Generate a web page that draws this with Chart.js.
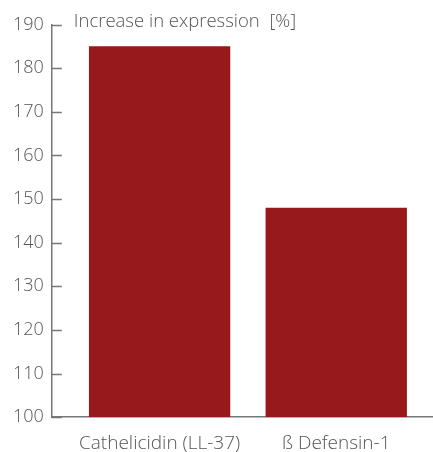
<!DOCTYPE html>
<html>
<head>
<meta charset="utf-8">
<script src="https://cdn.jsdelivr.net/npm/chart.js@4"></script>
<style>
  body { margin: 0; background: #fff; }
  #wrap { width: 433px; height: 452px; }
</style>
</head>
<body>
<div id="wrap"><canvas id="expressionChart"></canvas></div>
<script>
const categories = ['Cathelicidin (LL-37)', 'ß Defensin-1'];
const positions = [1, 2];
const increase = [185, 148];
const yTicks = [100, 110, 120, 130, 140, 150, 160, 170, 180, 190];

const textColor = '#555555';
const axisColor = '#777777';
const barColor = '#97191c';

// short ticks pointing into the plot, like the printed figure
const innerTicks = {
    id: 'innerTicks',
    afterDraw(chart) {
        const ctx = chart.ctx;
        const y = chart.scales.y;
        const left = chart.chartArea.left;
        ctx.save();
        ctx.strokeStyle = axisColor;
        ctx.lineWidth = 1.5;
        ctx.beginPath();
        yTicks.forEach(function (v) {
            const py = Math.round(y.getPixelForValue(v)) + 0.5;
            ctx.moveTo(left, py);
            ctx.lineTo(left + 10, py);
        });
        ctx.stroke();
        ctx.fillStyle = textColor;
        ctx.font = '300 18.5px "Open Sans", sans-serif';
        ctx.textBaseline = 'middle';
        ctx.fillText('Increase in expression  [%]', left + 22, y.getPixelForValue(190) - 3);
        ctx.restore();
    }
};

new Chart(document.getElementById('expressionChart'), {
    type: 'bar',
    data: {
        datasets: [{
            data: positions.map(function (p, i) { return { x: p, y: increase[i] }; }),
            backgroundColor: barColor,
            barPercentage: 0.8,
            categoryPercentage: 1.0,
            base: 100
        }]
    },
    options: {
        responsive: true,
        maintainAspectRatio: false,
        animation: false,
        layout: { padding: { top: 24.5, right: 1, left: 5, bottom: -18 } },
        plugins: {
            legend: { display: false },
            tooltip: { enabled: false }
        },
        scales: {
            x: {
                type: 'linear',
                offset: false,
                min: 0.39,
                max: 2.542,
                afterBuildTicks: function (axis) {
                    axis.ticks = positions.map(function (p) { return { value: p }; });
                },
                ticks: {
                    callback: function (v) { return categories[positions.indexOf(v)]; },
                    color: textColor,
                    font: { family: 'Open Sans', size: 19, weight: 300 },
                    padding: 15,
                    maxRotation: 0,
                    autoSkip: false
                },
                grid: { display: false, drawTicks: false },
                border: { color: axisColor, width: 1.5 }
            },
            y: {
                min: 100,
                max: 190,
                afterBuildTicks: function (axis) {
                    axis.ticks = yTicks.map(function (v) { return { value: v }; });
                },
                ticks: {
                    color: textColor,
                    font: { family: 'Open Sans', size: 18, weight: 300 },
                    padding: 8
                },
                grid: { display: false, drawTicks: false },
                border: { color: axisColor, width: 1.5 }
            }
        }
    },
    plugins: [innerTicks]
});
</script>
</body>
</html>
